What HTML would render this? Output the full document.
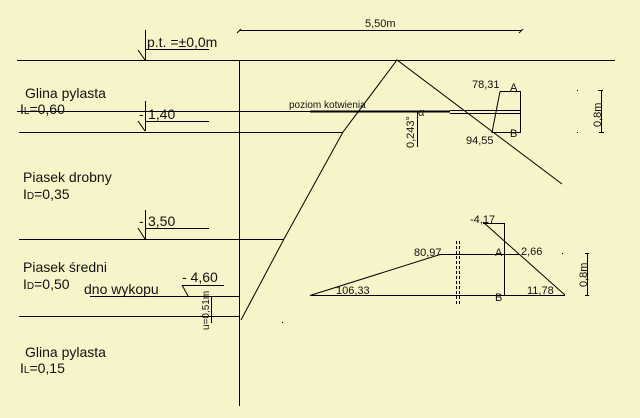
<!DOCTYPE html>
<html><head><meta charset="utf-8"><style>
html,body{margin:0;padding:0;background:#f8f4c9;}
svg{display:block;}
text{font-family:"Liberation Sans",sans-serif;fill:#111;}
</style></head><body>
<svg width="640" height="418" viewBox="0 0 640 418" xmlns="http://www.w3.org/2000/svg">
<rect width="640" height="418" fill="#f8f4c9"/>
<g stroke="#000" stroke-width="1" fill="none">
<!-- ground & layer lines -->
<line x1="17" y1="60.5" x2="615" y2="60.5"/>
<line x1="239.5" y1="60" x2="239.5" y2="406"/>
<line x1="17" y1="111.5" x2="310" y2="111.5"/>
<line x1="19" y1="132.5" x2="343" y2="132.5"/>
<line x1="19" y1="239.5" x2="284" y2="239.5"/>
<line x1="90" y1="296.5" x2="239" y2="296.5"/>
<line x1="19" y1="316.5" x2="239" y2="316.5"/>
<!-- dimension 5,50 -->
<line x1="239" y1="30.5" x2="521" y2="30.5"/>
<line x1="237" y1="33" x2="241" y2="29"/>
<line x1="519" y1="33" x2="523" y2="29"/>
<!-- level markers -->
<line x1="145.5" y1="30" x2="145.5" y2="60"/><line x1="145" y1="49.5" x2="209" y2="49.5"/><polyline points="138,50 145,60"/>
<line x1="145.5" y1="101" x2="145.5" y2="131"/><line x1="145" y1="121.5" x2="209" y2="121.5"/><polyline points="138,121 145,131"/>
<line x1="145.5" y1="210" x2="145.5" y2="239"/><line x1="145" y1="228.5" x2="209" y2="228.5"/><polyline points="138,228 145,239"/>
<line x1="182" y1="285.5" x2="224" y2="285.5"/><polyline points="182,285 188,296"/>
<line x1="211.5" y1="296" x2="211.5" y2="323"/>
<!-- excavation slope -->
<polyline points="241,320 284,239 343,132 397,60 562,184"/>
<!-- anchor -->
<line x1="310" y1="111.5" x2="450" y2="111.5" stroke-width="2"/>
<line x1="450" y1="110.5" x2="520" y2="110.5"/>
<line x1="450" y1="113.5" x2="520" y2="113.5"/>
<line x1="417.5" y1="111" x2="417.5" y2="147"/>
<!-- upper pressure diagram -->
<polyline points="500,91.5 520.5,91.5 520.5,132.5 492,132.5 500,91.5"/>
<line x1="601.5" y1="90" x2="601.5" y2="133"/>
<line x1="598" y1="90.5" x2="603" y2="90.5"/><line x1="599" y1="132.5" x2="604" y2="132.5"/>
<!-- lower diagram -->
<polyline points="483,223.5 504.5,223.5 504.5,295"/>
<line x1="483" y1="222" x2="565" y2="295"/>
<polyline points="310,295.5 440,254.5 520,254.5"/>
<line x1="310" y1="295.5" x2="565" y2="295.5"/>
<line x1="456.5" y1="241" x2="456.5" y2="305" stroke-dasharray="3,2"/>
<line x1="459.5" y1="241" x2="459.5" y2="305" stroke-dasharray="3,2"/>
<line x1="587.5" y1="253" x2="587.5" y2="296"/>
<line x1="585" y1="253.5" x2="589" y2="253.5"/><line x1="585" y1="295.5" x2="589" y2="295.5"/>
</g>
<g fill="#000"><rect x="577" y="90" width="1" height="1"/><rect x="577" y="132" width="1" height="1"/><rect x="562" y="253" width="1" height="1"/><rect x="282" y="322" width="1" height="1"/></g>
<g font-size="14">
<text x="147" y="47">p.t. =±0,0m</text>
<text x="25" y="98">Glina pylasta</text>
<text x="20" y="114">I<tspan font-size="10">L</tspan>=0,60</text>
<text x="139" y="119">-</text><text x="148" y="119">1,40</text>
<text x="23" y="182">Piasek drobny</text>
<text x="23" y="199">I<tspan font-size="10">D</tspan>=0,35</text>
<text x="139" y="226">-</text><text x="148" y="226">3,50</text>
<text x="23" y="272">Piasek średni</text>
<text x="23" y="289">I<tspan font-size="10">D</tspan>=0,50</text>
<text x="182" y="282">- 4,60</text>
<text x="84" y="294">dno wykopu</text>
<text x="25" y="357">Glina pylasta</text>
<text x="20" y="373">I<tspan font-size="10">L</tspan>=0,15</text>
</g>
<g font-size="11">
<text x="365" y="27">5,50m</text>
<text x="289" y="108" font-size="10">poziom kotwienia</text>
<text x="418" y="116">α</text>
<text transform="translate(414,148) rotate(-90)">0,243°</text>
<text x="472" y="88">78,31</text>
<text x="510" y="91">A</text>
<text x="510" y="137">B</text>
<text x="466" y="144">94,55</text>
<text transform="translate(601,127) rotate(-90)">0,8m</text>
<text x="470" y="223">-4,17</text>
<text x="414" y="256">80,97</text>
<text x="495" y="256">A</text>
<text x="521" y="255">2,66</text>
<text x="336" y="294">106,33</text>
<text x="495" y="301">B</text>
<text x="527" y="294">11,78</text>
<text transform="translate(587,287) rotate(-90)">0,8m</text>
<text transform="translate(209,330) rotate(-90)" font-size="10">u=0,51m</text>
</g>
</svg>
</body></html>
